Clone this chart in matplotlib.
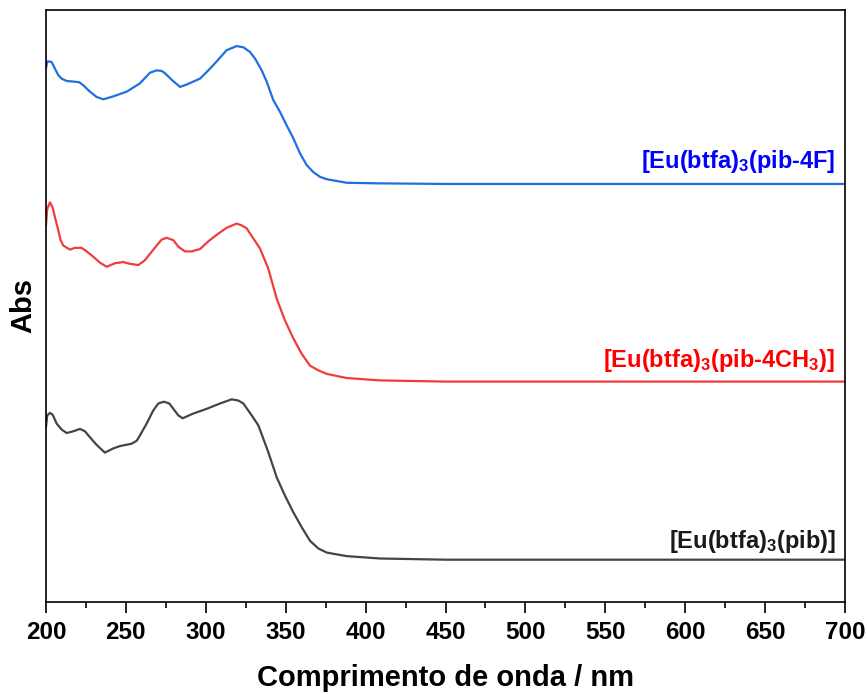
import matplotlib as mpl
import matplotlib.pyplot as plt
from matplotlib.ticker import MultipleLocator, NullLocator

mpl.use("Agg")

plt.rcParams["font.family"] = ["Liberation Sans", "DejaVu Sans"]
plt.rcParams["font.weight"] = "bold"
plt.rcParams["mathtext.fontset"] = "custom"
plt.rcParams["mathtext.rm"] = "Liberation Sans:bold"
plt.rcParams["mathtext.it"] = "Liberation Sans:bold"
plt.rcParams["mathtext.bf"] = "Liberation Sans:bold"

# UV-Vis spectra, offset for clarity (arbitrary units)
wl_4f = [200, 200.8, 202, 203.6, 205.6, 207.7, 209.8, 213, 217.1, 220.8, 223.3, 227.5,
         231.7, 235.9, 242.1, 250.5, 258.8, 265.1, 269.3, 272.4, 274.5, 278.7, 283.9,
         288, 296.4, 301.6, 306.8, 313, 319.3, 323.5, 327.7, 330.8, 335, 338.1, 342.2,
         346.4, 350.6, 354.8, 358.9, 363.1, 367.3, 371.5, 375.7, 388.2, 409, 450, 550, 700]
abs_4f = [0.901, 0.913, 0.913, 0.912, 0.901, 0.890, 0.884, 0.880, 0.879, 0.878, 0.873, 0.862,
          0.853, 0.849, 0.854, 0.862, 0.876, 0.894, 0.898, 0.897, 0.893, 0.882, 0.870,
          0.874, 0.884, 0.898, 0.913, 0.932, 0.939, 0.937, 0.929, 0.918, 0.898, 0.879, 0.848,
          0.828, 0.805, 0.783, 0.758, 0.738, 0.726, 0.718, 0.714, 0.708, 0.707, 0.706, 0.706, 0.706]

wl_4ch3 = [200, 200.8, 202.5, 204.2, 205.6, 207.7, 209.2, 210.8, 215, 218.1, 222.3, 225.5,
           229.6, 233.8, 238, 243.2, 248.4, 252.6, 257.8, 261.9, 265.1, 269.3, 272.4, 275.5,
           279.7, 282.8, 287, 291.2, 296.4, 301.6, 306.8, 313.1, 319.3, 322.5, 325.6, 329.7,
           333.9, 339.1, 344.4, 349.6, 354.8, 360, 365.2, 370.4, 375.7, 388.2, 409, 450, 550, 700]
abs_4ch3 = [0.636, 0.664, 0.675, 0.666, 0.650, 0.628, 0.611, 0.602, 0.595, 0.598, 0.598, 0.592,
            0.583, 0.573, 0.566, 0.572, 0.574, 0.571, 0.569, 0.577, 0.588, 0.602, 0.612, 0.615,
            0.611, 0.600, 0.592, 0.592, 0.596, 0.609, 0.620, 0.632, 0.639, 0.636, 0.631, 0.614,
            0.597, 0.563, 0.512, 0.475, 0.445, 0.419, 0.399, 0.391, 0.385, 0.378, 0.374, 0.372,
            0.372, 0.372]

wl_pib = [200, 200.8, 202.5, 204.2, 206.7, 209.8, 213, 217.1, 221.3, 224.4, 227.5, 231.7,
          236.9, 242.1, 246.3, 253.6, 256.8, 258.8, 263, 267.1, 270.3, 273.8, 277.2, 279.7,
          282.8, 285.5, 292.2, 300.6, 308.9, 316.2, 320.3, 323.5, 328.7, 332.9, 339.1, 344.4,
          349.6, 354.8, 360, 365.2, 370.4, 375.7, 388.2, 409, 450, 550, 700]
abs_pib = [0.295, 0.315, 0.319, 0.316, 0.301, 0.291, 0.285, 0.288, 0.292, 0.288, 0.278, 0.265,
           0.252, 0.259, 0.263, 0.267, 0.272, 0.281, 0.301, 0.323, 0.335, 0.338, 0.335, 0.326,
           0.315, 0.310, 0.318, 0.326, 0.335, 0.342, 0.340, 0.335, 0.315, 0.298, 0.253, 0.210,
           0.179, 0.151, 0.126, 0.103, 0.090, 0.083, 0.077, 0.073, 0.071, 0.071, 0.071]

labels = [r"[Eu(btfa)$_3$(pib-4F]", r"[Eu(btfa)$_3$(pib-4CH$_3$)]", r"[Eu(btfa)$_3$(pib)]"]
label_y = [0.733, 0.396, 0.091]
line_colors = ["#1f6fe0", "#f03c3c", "#454545"]
text_colors = ["#0000ff", "#ff0000", "#1a1a1a"]

fig = plt.figure(figsize=(8.67, 6.94), dpi=100)
ax = fig.add_axes([0.053, 0.133, 0.9217, 0.8526])

series = [(wl_4f, abs_4f), (wl_4ch3, abs_4ch3), (wl_pib, abs_pib)]
for (wl, ab), lc, tc, lab, ly in zip(series, line_colors, text_colors, labels, label_y):
    ax.plot(wl, ab, color=lc, lw=1.6, solid_joinstyle="round")
    ax.text(694, ly, lab, color=tc, fontsize=17, fontweight="bold", ha="right", va="baseline")

ax.set_xlim(200, 700)
ax.set_ylim(0, 1)
ax.xaxis.set_major_locator(MultipleLocator(50))
ax.xaxis.set_minor_locator(MultipleLocator(25))
ax.yaxis.set_major_locator(NullLocator())
ax.tick_params(axis="x", which="major", direction="out", length=8, width=1.2, labelsize=17.5, pad=6)
ax.tick_params(axis="x", which="minor", direction="out", length=4, width=1.2)
for lbl in ax.get_xticklabels():
    lbl.set_fontweight("bold")
for sp in ax.spines.values():
    sp.set_linewidth(1.2)

ax.set_xlabel("Comprimento de onda / nm", fontsize=21, fontweight="bold", labelpad=14)
ax.set_ylabel("Abs", fontsize=21, fontweight="bold", labelpad=6)

fig.savefig("out.png", dpi=100)
